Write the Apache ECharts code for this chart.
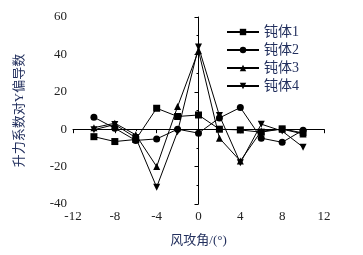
<!DOCTYPE html>
<html>
<head>
<meta charset="utf-8">
<script src="https://cdn.jsdelivr.net/npm/echarts@6/dist/echarts.min.js"></script>
<style>
  html, body { margin: 0; padding: 0; background: #fff; }
  #chart { width: 363px; height: 255px; }
</style>
</head>
<body>
<div id="chart"></div>
<script>
const angles = [-10, -8, -6, -4, -2, 0, 2, 4, 6, 8, 10];
const seriesNames = ['钝体1', '钝体2', '钝体3', '钝体4'];
const body1 = [-4, -6.6, -5.5, 11.2, 6.8, 7.6, 0, -0.4, -1.6, 0.2, -2];
const body2 = [6.4, 0.5, -6, -5.2, 0, -2.1, 6, 11.6, -4.8, -7, -0.5];
const body3 = [0.8, 3.2, -3, -20, 12.1, 42, -4.8, -17, -1, 0, -2.5];
const body4 = [-0.3, 2.5, -4.5, -31, -1.3, 44, 7.3, -18, 2.7, -1, -9.6];

const chart = echarts.init(document.getElementById('chart'));

const zip = (ys) => angles.map((x, i) => [x, ys[i]]);
const serif = 'Liberation Serif, Noto Sans CJK SC, serif';
const navy = '#23305e';

const mk = (name, ys, symbol, rotate) => ({
  name,
  type: 'line',
  data: zip(ys),
  symbol,
  symbolSize: 7,
  symbolRotate: rotate || 0,
  showAllSymbol: true,
  lineStyle: { color: '#000', width: 1 },
  itemStyle: { color: '#000' },
  emphasis: { disabled: true },
  animation: false
});

chart.setOption({
  animation: false,
  grid: { left: 73, right: 39, top: 17, bottom: 51, containLabel: false },
  legend: {
    orient: 'vertical',
    left: 226,
    top: 25,
    padding: 0,
    itemWidth: 32,
    itemHeight: 8,
    itemGap: 4,
    textStyle: { color: navy, fontSize: 14, fontFamily: serif, lineHeight: 14 },
    data: seriesNames
  },
  xAxis: {
    type: 'value',
    min: -12,
    max: 12,
    interval: 4,
    name: '风攻角/(°)',
    nameLocation: 'middle',
    nameGap: 30,
    nameTextStyle: { color: navy, fontSize: 13, fontFamily: serif },
    axisLine: { lineStyle: { color: '#000', width: 1 } },
    axisTick: { inside: false, length: 4, lineStyle: { color: '#000' } },
    minorTick: { show: true, splitNumber: 2, length: 2, lineStyle: { color: '#000' } },
    axisLabel: { color: '#222', fontSize: 13, fontFamily: serif, margin: 6 },
    splitLine: { show: false }
  },
  yAxis: {
    type: 'value',
    min: -40,
    max: 60,
    interval: 20,
    name: '升力系数对Y偏导数',
    nameLocation: 'middle',
    nameGap: 47,
    nameTextStyle: { color: navy, fontSize: 13, fontFamily: serif },
    axisLine: { show: true, lineStyle: { color: '#000', width: 1 } },
    axisTick: { show: true, inside: false, length: 4, lineStyle: { color: '#000' } },
    minorTick: { show: true, splitNumber: 2, length: 2, lineStyle: { color: '#000' } },
    axisLabel: { color: '#222', fontSize: 13, fontFamily: serif, margin: 6 },
    splitLine: { show: false }
  },
  series: [
    mk(seriesNames[0], body1, 'rect'),
    mk(seriesNames[1], body2, 'circle'),
    mk(seriesNames[2], body3, 'triangle'),
    mk(seriesNames[3], body4, 'triangle', 180)
  ]
});
</script>
</body>
</html>
